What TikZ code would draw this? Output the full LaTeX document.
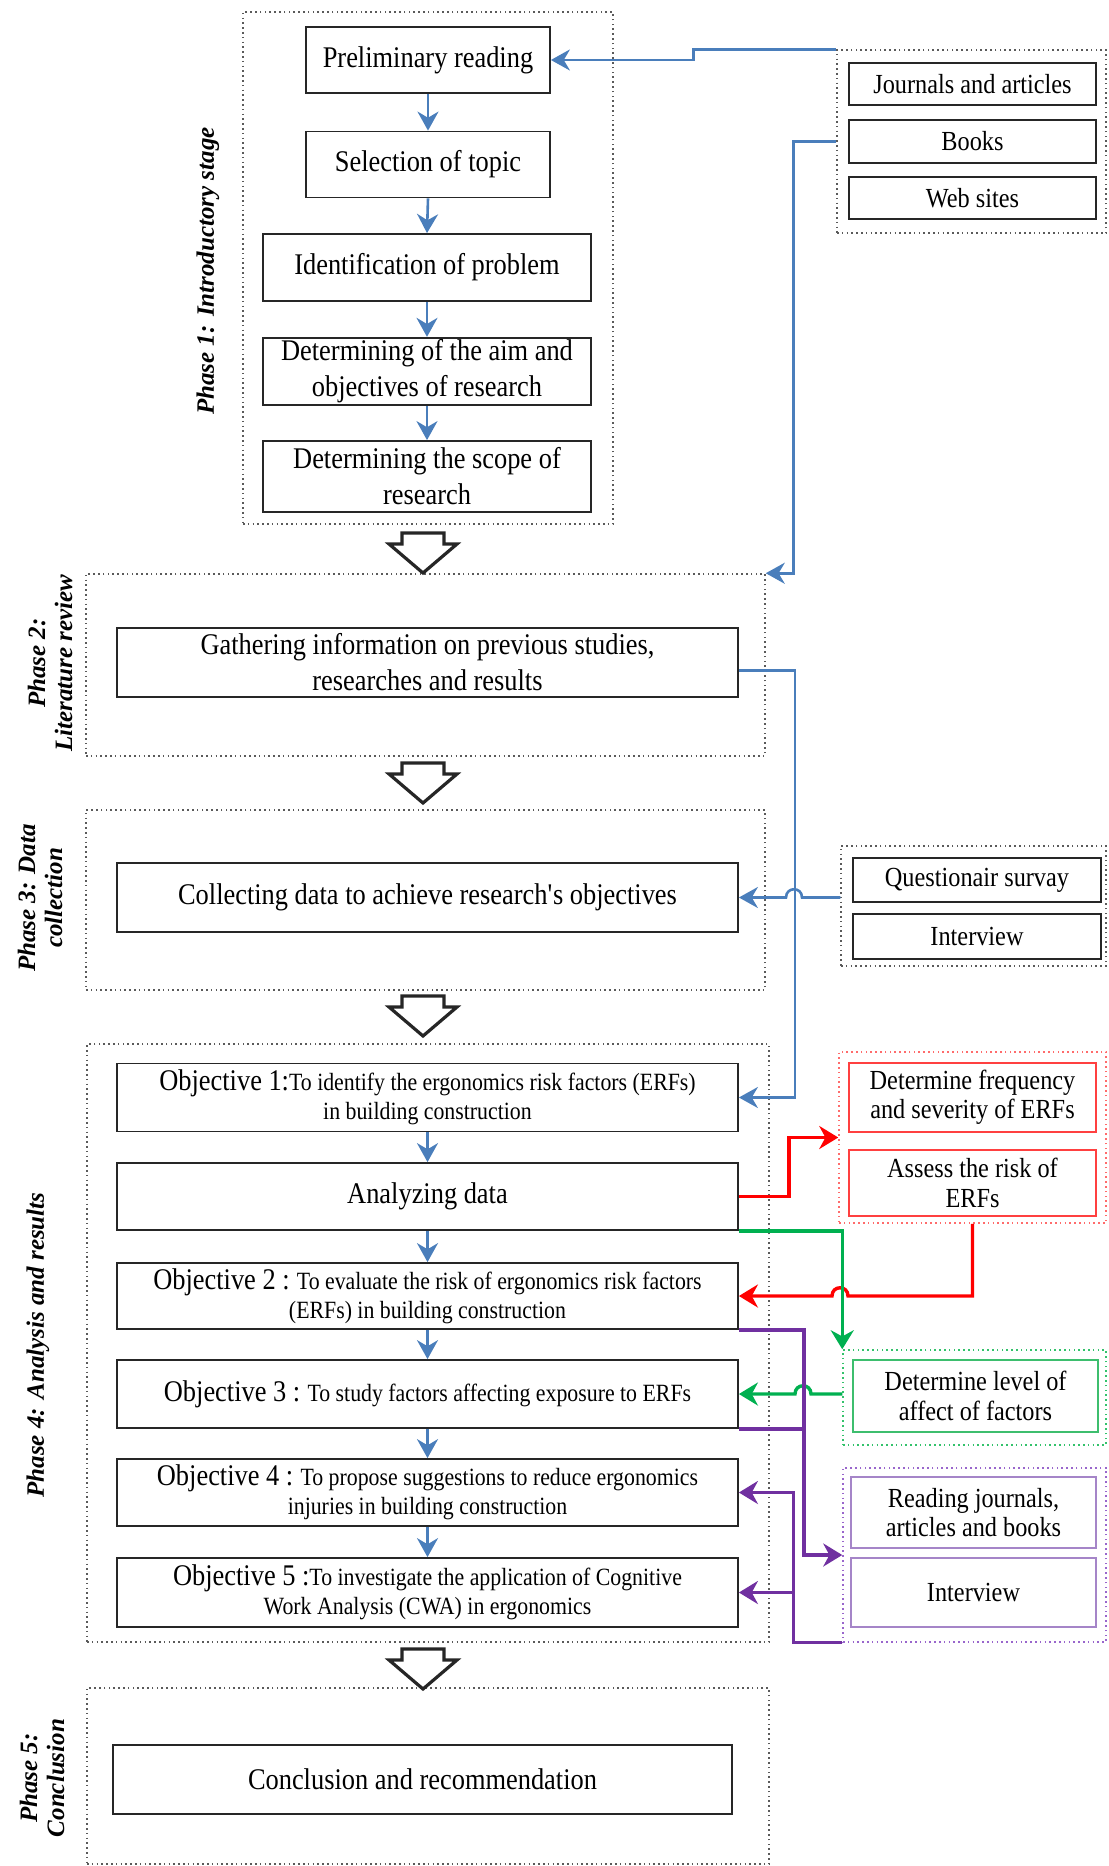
\documentclass[tikz,border=0pt]{standalone}
\usepackage{fontspec}
\setmainfont{Liberation Serif}[FakeStretch=0.88]
\newfontfamily\phasefont{Liberation Serif}
\usetikzlibrary{
  arrows.meta,
  calc
}
\definecolor{inkC}{HTML}{262626}
\definecolor{frameC}{HTML}{5A5A5A}
\definecolor{blueC}{HTML}{4A7EBB}
\definecolor{redC}{HTML}{FF0000}
\definecolor{redFrameC}{HTML}{FF6B6B}
\definecolor{redBoxC}{HTML}{FF4040}
\definecolor{greenC}{HTML}{00B050}
\definecolor{greenFrameC}{HTML}{33C26B}
\definecolor{greenBoxC}{HTML}{3DBE6E}
\definecolor{purpleC}{HTML}{7030A0}
\definecolor{purpleFrameC}{HTML}{9966CC}
\definecolor{purpleBoxC}{HTML}{A585C8}

\newcommand\bigtxt{\fontsize{15}{18}\selectfont}
\newcommand\smalltxt{\fontsize{12.4}{14.5}\selectfont}
\newcommand\sidetxt{\fontsize{13.8}{14.6}\selectfont}
\newcommand\phasetxt{\phasefont\bfseries\itshape\fontsize{12.5}{13.5}\selectfont}
\newcommand\objtitle[1]{{\bigtxt #1}}

\begin{document}
\begin{tikzpicture}[
  x=0.5pt,
  y=-0.5pt,
  box/.style={draw=inkC, line width=0.9pt, fill=white, align=center,
    inner sep=1pt, font=\bigtxt},
  objbox/.style={box, minimum width=310.5pt, minimum height=34pt, font=\smalltxt},
  sidebox/.style={box, minimum width=123.5pt, font=\sidetxt},
  frame/.style={draw=frameC, line width=0.75pt, dash pattern=on 0.8pt off 1.6pt},
  flow/.style={draw=blueC, line width=1.3pt, -{Stealth[length=9.5pt,width=10.5pt]}},
  link/.style={line width=1.7pt, -{Stealth[length=9.5pt,width=11.5pt]}},
  phaselabel/.style={rotate=90, align=center, font=\phasetxt},
  hollow/.style={draw=inkC, line width=1.6pt, fill=white, line join=miter}
]

\useasboundingbox (0,0) rectangle (1108,1866);

% Phase frames and source groups.
\node[frame, minimum width=185pt, minimum height=256pt] (phaseI) at (428,268) {};
\node[frame, minimum width=134.5pt, minimum height=91.5pt] (srcframe) at (971.5,141.5) {};
\node[frame, minimum width=339.5pt, minimum height=91pt] (phaseII) at (425.5,665) {};
\node[frame, minimum width=339.5pt, minimum height=90pt] (phaseIII) at (425.5,900) {};
\node[frame, minimum width=132.5pt, minimum height=60pt] (qframe) at (973.5,906) {};
\node[frame, minimum width=341pt, minimum height=299pt] (phaseIV) at (428,1343) {};
\node[frame, draw=redFrameC, minimum width=133.5pt, minimum height=85.5pt] (redframe) at (972.5,1137.5) {};
\node[frame, draw=greenFrameC, minimum width=131.5pt, minimum height=47.5pt] (greenframe) at (974.5,1397.5) {};
\node[frame, draw=purpleFrameC, minimum width=131.5pt, minimum height=87pt] (purpleframe) at (974.5,1555) {};
\node[frame, minimum width=341pt, minimum height=88pt] (phaseV) at (428,1776) {};

% Phase titles.
\node[phaselabel] (labI) at (208,271) {Phase 1: Introductory stage};
\node[phaselabel] (labII) at (50,663) {Phase 2:\\Literature review};
\node[phaselabel] (labIII) at (40,898) {Phase 3: Data\\collection};
\node[phaselabel] (labIV) at (38,1345) {Phase 4: Analysis and results};
\node[phaselabel] (labV) at (42,1778) {Phase 5:\\Conclusion};

% Phase 1 steps.
\node[box, minimum width=122pt, minimum height=33pt] (prelim) at (428,60) {Preliminary reading};
\node[box, minimum width=122pt, minimum height=33pt] (topic) at (428,164.5) {Selection of topic};
\node[box, minimum width=164pt, minimum height=33.5pt] (problem) at (427,267.5) {Identification of problem};
\node[box, minimum width=164pt, minimum height=33.5pt] (aim) at (427,371.5) {Determining of the aim and\\objectives of research};
\node[box, minimum width=164pt, minimum height=35.5pt] (scope) at (427,476.5) {Determining the scope of\\research};

% Sources.
\node[sidebox, minimum height=21pt] (journals) at (972.5,84) {Journals and articles};
\node[sidebox, minimum height=21.5pt] (books) at (972.5,141.5) {Books};
\node[sidebox, minimum height=21pt] (web) at (972.5,198) {Web sites};

% Phases 2, 3 and 5.
\node[box, minimum width=310.5pt, minimum height=34.5pt] (gather) at (427.5,662.5) {Gathering information on previous studies,\\researches and results};
\node[box, minimum width=310.5pt, minimum height=34.5pt] (collect) at (427.5,897.5) {Collecting data to achieve research\textquotesingle s objectives};
\node[sidebox, minimum width=124pt, minimum height=22pt] (quest) at (977,880) {Questionair survay};
\node[sidebox, minimum width=124pt, minimum height=22.5pt] (interviewA) at (977,936.5) {Interview};
\node[box, minimum width=309.5pt, minimum height=34.5pt] (concl) at (422.5,1779.5) {Conclusion and recommendation};

% Phase 4 objectives.
\node[objbox] (obj1) at (427.5,1097.5) {\objtitle{Objective 1:}To identify the ergonomics risk factors (ERFs)\\in building construction};
\node[box, minimum width=310.5pt, minimum height=33.5pt] (analyze) at (427.5,1196.5) {Analyzing data};
\node[objbox, minimum height=33pt] (obj2) at (427.5,1296) {\objtitle{Objective 2 :} To evaluate the risk of ergonomics risk factors\\(ERFs) in building construction};
\node[objbox] (obj3) at (427.5,1394) {\objtitle{Objective 3 :} To study factors affecting exposure to ERFs};
\node[objbox, minimum height=33.5pt] (obj4) at (427.5,1492.5) {\objtitle{Objective 4 :} To propose suggestions to reduce ergonomics\\injuries in building construction};
\node[objbox, minimum height=34.5pt] (obj5) at (427.5,1592.5) {\objtitle{Objective 5 :}To investigate the application of Cognitive\\Work Analysis (CWA) in ergonomics};

% Analysis methods.
\node[sidebox, draw=redBoxC, minimum height=34.5pt] (freq) at (972.5,1097.5) {Determine frequency\\and severity of ERFs};
\node[sidebox, draw=redBoxC, minimum height=33pt] (assess) at (972.5,1183) {Assess the risk of\\ERFs};
\node[sidebox, draw=greenBoxC, minimum width=122.5pt, minimum height=36pt] (level) at (975.5,1396) {Determine level of\\affect of factors};
\node[sidebox, draw=purpleBoxC, minimum width=122.5pt, minimum height=35.5pt] (reading) at (973.5,1512.5) {Reading journals,\\articles and books};
\node[sidebox, draw=purpleBoxC, minimum width=122.5pt, minimum height=34.5pt] (interviewB) at (973.5,1592.5) {Interview};

% Hollow arrows between phases.
\foreach \yt in {533,763,996,1649}{
  \draw[hollow] (402,\yt) -- ++(42,0) -- ++(0,11) -- ++(13,0) -- ++(-34,29)
    -- ++(-34,-29) -- ++(13,0) -- cycle;
}

% Step arrows.
\foreach \a/\b in {prelim/topic,topic/problem,problem/aim,aim/scope,
  obj1/analyze,analyze/obj2,obj2/obj3,obj3/obj4,obj4/obj5}{
  \draw[flow] (\a.south) -- (\b.north);
}

% Blue feeds.
\draw[flow] (srcframe.north west) -- ++(-143,0) |- (prelim.east);
\draw[flow] (srcframe.west |- books) -| ($(phaseII.north east)+(28,0)$) -- (phaseII.north east);
\draw[flow] ([yshift=-4pt]gather.east) -- ++(56,0) |- (obj1.east);
\draw[flow] (qframe.west |- collect.east) -- (802,897.5)
  .. controls (802,886.5) and (786,886.5) .. (786,897.5) -- (collect.east);

% Red feeds.
\draw[link, redC] (analyze.east) -- ++(50,0) |- (redframe.west);
\draw[link, redC] (assess |- redframe.south) -- (972.5,1296) -- (848,1296)
  .. controls (848,1285) and (832,1285) .. (832,1296) -- (obj2.east);

% Green feeds.
\draw[link, greenC] (analyze.south east) -| (greenframe.north west);
\draw[link, greenC] (greenframe.west |- obj3.east) -- (811,1394)
  .. controls (811,1383) and (795,1383) .. (795,1394) -- (obj3.east);

% Purple feeds.
\draw[link, purpleC] (obj2.south east) -- ++(65,0) |- (purpleframe.west);
\draw[purpleC, line width=1.7pt] (obj3.south east) -- ++(65,0);
\draw[link, purpleC] (purpleframe.south west) -- ++(-49,0) |- (obj4.east);
\draw[link, purpleC] (purpleframe.south west) ++(-49,0) |- (obj5.east);

\end{tikzpicture}
\end{document}
